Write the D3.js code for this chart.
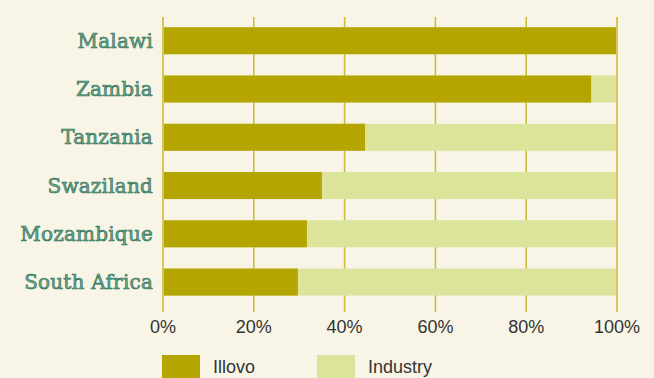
<!DOCTYPE html>
<html lang="en">
<head>
    <meta charset="UTF-8">
    <title>Illovo vs Industry</title>
    <script src="https://cdnjs.cloudflare.com/ajax/libs/d3/7.8.5/d3.min.js"></script>
    <style>
        body {
            margin: 0;
            background-color: #f8f5e7;
        }

        .country {
            font-family: "DejaVu Serif", serif;
            font-size: 20px;
            letter-spacing: 0.2px;
            fill: #6aa78c;
            stroke: #2a6b52;
            stroke-width: 0.6px;
        }

        .tick-label, .legend-label {
            font-family: "Liberation Sans", Arial, sans-serif;
            font-size: 18px;
            fill: #333;
        }
    </style>
</head>
<body>
    <svg id="chart"></svg>
    <script>
        const width = 654;
        const height = 378;

        const countries = ["Malawi", "Zambia", "Tanzania", "Swaziland", "Mozambique", "South Africa"];
        const illovo = [100, 94.3, 44.5, 35.0, 31.7, 29.7];
        const ticks = [0, 20, 40, 60, 80, 100];
        const seriesNames = ["Illovo", "Industry"];
        const colors = ["#b5a500", "#dce49c"];

        const svg = d3.select("#chart")
            .attr("width", width)
            .attr("height", height);

        svg.append("rect")
            .attr("width", width)
            .attr("height", height)
            .attr("fill", "#f8f5e7");

        const x = d3.scaleLinear()
            .domain([0, 100])
            .range([163, 617]);

        const y = d3.scaleBand()
            .domain(countries)
            .range([16.6, 306.2])
            .paddingInner(0.44)
            .paddingOuter(0.22);

        // gridlines
        svg.selectAll(".grid")
            .data(ticks)
            .join("line")
            .attr("class", "grid")
            .attr("x1", d => x(d))
            .attr("x2", d => x(d))
            .attr("y1", 17)
            .attr("y2", 312)
            .attr("stroke", "#ccbc3c")
            .attr("stroke-width", 1.6);

        // industry (full bar)
        svg.selectAll(".industry")
            .data(countries)
            .join("rect")
            .attr("class", "industry")
            .attr("x", x(0) + 1)
            .attr("y", d => y(d))
            .attr("width", x(100) - x(0) - 2)
            .attr("height", y.bandwidth())
            .attr("fill", colors[1]);

        // illovo share
        svg.selectAll(".illovo")
            .data(countries)
            .join("rect")
            .attr("class", "illovo")
            .attr("x", x(0) + 1)
            .attr("y", d => y(d))
            .attr("width", (d, i) => x(illovo[i]) - x(0) - (illovo[i] === 100 ? 2 : 1))
            .attr("height", y.bandwidth())
            .attr("fill", colors[0]);

        // country labels
        svg.selectAll(".country")
            .data(countries)
            .join("text")
            .attr("class", "country")
            .attr("x", 153)
            .attr("y", d => y(d) + y.bandwidth() / 2)
            .attr("dy", "0.35em")
            .attr("text-anchor", "end")
            .text(d => d);

        // tick labels
        svg.selectAll(".tick-label")
            .data(ticks)
            .join("text")
            .attr("class", "tick-label")
            .attr("x", d => x(d))
            .attr("y", 333)
            .attr("text-anchor", "middle")
            .text(d => d + "%");

        // legend
        const legendX = [162, 317];
        const legend = svg.selectAll(".legend")
            .data(seriesNames)
            .join("g")
            .attr("class", "legend")
            .attr("transform", (d, i) => "translate(" + legendX[i] + ",355)");

        legend.append("rect")
            .attr("width", 38)
            .attr("height", 23)
            .attr("fill", (d, i) => colors[i]);

        legend.append("text")
            .attr("class", "legend-label")
            .attr("x", 51)
            .attr("y", 18)
            .text(d => d);
    </script>
</body>
</html>
